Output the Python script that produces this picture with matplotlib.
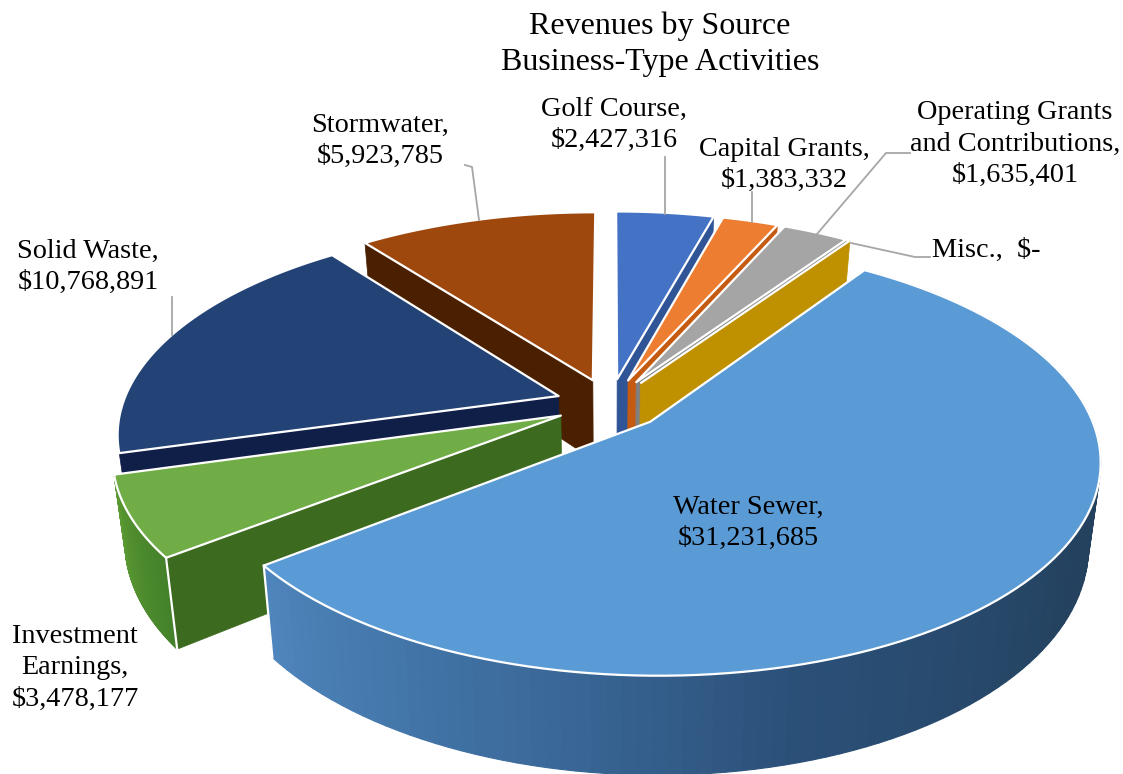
import numpy as np
from matplotlib import pyplot as plt
from matplotlib.colors import to_rgb
from matplotlib.patches import Polygon

plt.rcParams['font.family'] = ['Liberation Serif', 'DejaVu Serif']

# slices run clockwise from 12 o'clock
names = ['Golf Course', 'Capital Grants', 'Operating Grants\nand Contributions', 'Misc.',
         'Water Sewer', 'Investment\nEarnings', 'Solid Waste', 'Stormwater']
revenues = [2427316, 1383332, 1635401, 0, 31231685, 3478177, 10768891, 5923785]

top_colors = ['#4472c4', '#ed7d31', '#a5a5a5', '#bf9000', '#5b9bd5', '#70ad47', '#234275', '#9e480e']
cut_colors = ['#2f5597', '#c55a11', '#7f7f7f', '#bf9000', '#2f5f8f', '#3c6a1f', '#0f1f48', '#4a2000']

# rim shading as (clock angle, colour) stops, only these two rims can be seen
water_rim = [(34, '#1f3a57'), (120, '#24425f'), (165, '#2b5078'), (195, '#3c6b9c'), (233, '#4f86bd')]
invest_rim = [(232, '#43802a'), (255, '#5c9a33')]
rims = {4: water_rim, 5: invest_rim}

# which end of the rim shows a white corner
corner_end = {4: -1, 5: 0}

# camera for the tilted pie
CX, CY = 610, 404
RADIUS = 436
SQUASH = 0.468
PERSPECTIVE = 0.17
DEPTH = 81
EXPLODE = 0.125


def project(x, y, lower=False):
    f = 1 / (1 + PERSPECTIVE * y)
    sx = CX + RADIUS * x * f
    sy = CY - RADIUS * SQUASH * y * f
    if lower:
        sx = CX + (sx - CX) * 0.975
        sy = sy + DEPTH * f
    return np.column_stack([sx, sy])


def rim_color(stops, angle):
    angles = [s[0] for s in stops]
    rgb = np.array([to_rgb(s[1]) for s in stops])
    return [np.interp(angle, angles, rgb[:, c]) for c in range(3)]


def draw_slice(ax, start, end, top, cut, stops):
    mid_deg = (start + end) / 2
    mid = np.radians(mid_deg)
    ox, oy = EXPLODE * np.sin(mid), EXPLODE * np.cos(mid)
    t = np.radians(np.linspace(start, end, 120))
    x = ox + np.sin(t)
    y = oy + np.cos(t)

    upper = project(x, y)
    lower = project(x, y, lower=True)
    tip_up = project(np.array([ox]), np.array([oy]))
    tip_low = project(np.array([ox]), np.array([oy]), lower=True)

    # only the cut face turned toward the viewer
    i = -1 if mid_deg < 180 else 0
    quad = np.vstack([tip_up, upper[i], lower[i], tip_low])
    ax.add_patch(Polygon(quad, facecolor=cut, edgecolor=cut, lw=0.5))

    # curved rim, in short strips so the shading can change along it
    if stops:
        for i in range(len(t) - 1):
            c = rim_color(stops, np.degrees((t[i] + t[i + 1]) / 2))
            quad = np.vstack([upper[i], upper[i + 1], lower[i + 1], lower[i]])
            ax.add_patch(Polygon(quad, facecolor=c, edgecolor=c, lw=0.8))

    face = np.vstack([tip_up, upper])
    ax.add_patch(Polygon(face, facecolor=top, edgecolor='white', lw=1.6, joinstyle='round'))
    return upper, lower


fig = plt.figure(figsize=(11.23, 7.74), dpi=100)
ax = fig.add_axes([0, 0, 1, 1])
ax.set_xlim(0, 1123)
ax.set_ylim(774, 0)
ax.axis('off')

shares = np.array(revenues) / sum(revenues) * 360
ends = np.cumsum(shares)
starts = ends - shares

# far slices first, then the left side, water last since it sits on top
for i in [0, 1, 2, 3, 7, 6, 5, 4]:
    up, low = draw_slice(ax, starts[i], ends[i], top_colors[i], cut_colors[i], rims.get(i))
    if i in corner_end:
        k = corner_end[i]
        ax.plot([up[k][0], low[k][0]], [up[k][1], low[k][1]], color='white', lw=1.6)

# leader lines
leaders = [
    ([465, 472, 479], [165, 167, 220]),
    ([665, 665], [157, 214]),
    ([752, 752], [192, 222]),
    ([910, 886, 817], [153, 153, 234]),
    ([851, 915, 930], [243, 257, 257]),
    ([172, 172], [297, 335]),
]
for lx, ly in leaders:
    ax.plot(lx, ly, color='#a6a6a6', lw=1.3)

ax.text(660, 44, 'Revenues by Source\nBusiness-Type Activities', fontsize=23, ha='center', va='center',
        linespacing=1.3)

label_spots = [(614, 125), (784, 165), (1015, 144), (932, 250), (748, 523), (75, 668), (88, 267), (380, 141)]
for i, (name, value) in enumerate(zip(names, revenues)):
    amount = f'${value:,.0f}' if value else '$-'
    px, py = label_spots[i]
    if value:
        ax.text(px, py, f'{name},\n{amount}', fontsize=20.3, ha='center', va='center', linespacing=1.33)
    else:
        ax.text(px, py, f'{name},  {amount}', fontsize=20.3, ha='left', va='center')

fig.savefig('out.png', dpi=100)
